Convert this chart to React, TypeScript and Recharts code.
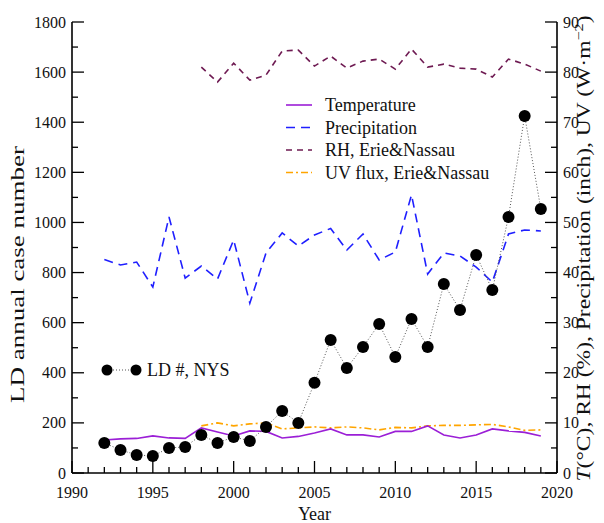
import { ComposedChart, Legend, Line, XAxis, YAxis } from "recharts";

// Lyme disease cases in NYS vs. climate variables
const years = [
  1992, 1993, 1994, 1995, 1996, 1997, 1998, 1999, 2000, 2001, 2002, 2003, 2004, 2005,
  2006, 2007, 2008, 2009, 2010, 2011, 2012, 2013, 2014, 2015, 2016, 2017, 2018, 2019,
];
const ldCases = [
  120, 92, 72, 68, 100, 104, 152, 120, 144, 128, 184, 247, 200, 360,
  531, 419, 503, 595, 463, 615, 503, 754, 651, 870, 730, 1022, 1425, 1054,
];
const temperature = [
  6.6, 6.8, 6.9, 7.4, 7.0, 6.9, 9.0, 8.2, 7.4, 8.4, 8.3, 7.0, 7.3, 8.0,
  8.8, 7.6, 7.6, 7.2, 8.3, 8.3, 9.4, 7.6, 7.0, 7.6, 8.8, 8.4, 8.1, 7.4,
];
const precipitation = [
  42.6, 41.5, 42.1, 37.1, 51.1, 38.9, 41.3, 38.7, 46.5, 33.9, 43.9, 47.9, 45.3, 47.5,
  48.8, 44.5, 47.7, 42.5, 44.1, 55.5, 39.7, 43.9, 43.3, 41.1, 38.1, 47.7, 48.5, 48.3,
];
// Erie & Nassau records start in 1998
const eriesYears = [
  1998, 1999, 2000, 2001, 2002, 2003, 2004, 2005, 2006, 2007, 2008,
  2009, 2010, 2011, 2012, 2013, 2014, 2015, 2016, 2017, 2018, 2019,
];
const relHumidity = [
  81.0, 78.0, 81.8, 78.4, 79.4, 84.2, 84.4, 81.2, 83.2, 80.8, 82.2,
  82.6, 80.6, 84.6, 81.0, 81.6, 80.8, 80.6, 79.0, 82.6, 81.6, 80.2,
];
const uvFlux = [
  9.4, 10.0, 9.4, 9.8, 10.0, 8.8, 9.0, 9.2, 9.0, 9.2, 9.0,
  8.6, 9.1, 9.0, 9.4, 9.5, 9.5, 9.6, 9.7, 9.2, 8.5, 8.6,
];

const yearTicks = [
  1990, 1991, 1992, 1993, 1994, 1995, 1996, 1997, 1998, 1999, 2000, 2001, 2002, 2003, 2004, 2005,
  2006, 2007, 2008, 2009, 2010, 2011, 2012, 2013, 2014, 2015, 2016, 2017, 2018, 2019, 2020,
];
const leftTicks = [
  0, 100, 200, 300, 400, 500, 600, 700, 800, 900, 1000, 1100, 1200, 1300, 1400, 1500, 1600, 1700, 1800,
];
const rightTicks = [0, 5, 10, 15, 20, 25, 30, 35, 40, 45, 50, 55, 60, 65, 70, 75, 80, 85, 90];

const data = years.map((year, i) => {
  const j = eriesYears.indexOf(year);
  return {
    year,
    ld: ldCases[i],
    temp: temperature[i],
    precip: precipitation[i],
    rh: j >= 0 ? relHumidity[j] : null,
    uv: j >= 0 ? uvFlux[j] : null,
  };
});

const FONT = '"Liberation Serif", "Times New Roman", Times, serif';
const txt = { fontFamily: FONT };

const COLORS = {
  temp: "#9b1fd6",
  precip: "#1f1fff",
  rh: "#6e1a52",
  uv: "#ffa500",
  ld: "#000000",
};

const legendItems = [
  { label: "Temperature", color: COLORS.temp, dash: undefined },
  { label: "Precipitation", color: COLORS.precip, dash: "9 6" },
  { label: "RH, Erie&Nassau", color: COLORS.rh, dash: "6 5" },
  { label: "UV flux, Erie&Nassau", color: COLORS.uv, dash: "7 3 2 3" },
];

const LeftTick = (props: any) => {
  const { x, y, payload } = props;
  const major = payload.value % 200 === 0;
  return (
    <g>
      <line x1={x} x2={x + (major ? 12 : 6)} y1={y} y2={y} stroke="#000" strokeWidth={1.3} />
      {major && (
        <text x={x - 6} y={y} dy="0.35em" textAnchor="end" style={txt} fontSize={16} fill="#111">
          {payload.value}
        </text>
      )}
    </g>
  );
};

const RightTick = (props: any) => {
  const { x, y, payload } = props;
  const major = payload.value % 10 === 0;
  return (
    <g>
      <line x1={x} x2={x - (major ? 12 : 6)} y1={y} y2={y} stroke="#000" strokeWidth={1.3} />
      {major && (
        <text x={x + 6} y={y} dy="0.35em" textAnchor="start" style={txt} fontSize={16} fill="#111">
          {payload.value}
        </text>
      )}
    </g>
  );
};

const YearTick = (props: any) => {
  const { x, y, payload } = props;
  const major = payload.value % 5 === 0;
  return (
    <g>
      <line x1={x} x2={x} y1={y} y2={y - (major ? 12 : 6)} stroke="#000" strokeWidth={1.3} />
      {major && (
        <text x={x} y={y + 25} textAnchor="middle" style={txt} fontSize={16} fill="#111">
          {payload.value}
        </text>
      )}
    </g>
  );
};

const LeftTitle = (props: any) => {
  const { viewBox } = props;
  const cy = viewBox.y + viewBox.height / 2 + 27;
  return (
    <text
      transform={`translate(24, ${cy}) rotate(-90)`}
      textAnchor="middle"
      style={txt}
      fontSize={19}
      fill="#111"
      textLength={257}
      lengthAdjust="spacingAndGlyphs"
    >
      LD annual case number
    </text>
  );
};

const RightTitle = (props: any) => {
  const { viewBox } = props;
  const cy = viewBox.y + viewBox.height / 2 + 1;
  return (
    <text
      transform={`translate(${viewBox.x + 33}, ${cy}) rotate(-90)`}
      textAnchor="middle"
      style={txt}
      fontSize={19}
      fill="#111"
      textLength={466}
      lengthAdjust="spacingAndGlyphs"
    >
      <tspan fontStyle="italic">T</tspan>
      <tspan>(°C), RH (%), Precipitation (inch), UV (W·m</tspan>
      <tspan dy={-7} fontSize={13}>−2</tspan>
      <tspan dy={7}>)</tspan>
    </text>
  );
};

const YearTitle = (props: any) => {
  const { viewBox } = props;
  return (
    <text
      x={viewBox.x + viewBox.width / 2}
      y={viewBox.y + 47}
      textAnchor="middle"
      style={txt}
      fontSize={18}
      fill="#111"
    >
      Year
    </text>
  );
};

const LegendBox = () => (
  <svg width={604} height={523} style={{ position: "absolute", left: 0, top: 0 }}>
    {legendItems.map((item, i) => {
      const y = 105 + i * 22.5;
      return (
        <g key={item.label}>
          <line
            x1={286}
            x2={312}
            y1={y}
            y2={y}
            stroke={item.color}
            strokeWidth={1.6}
            strokeDasharray={item.dash}
          />
          <text x={325} y={y} dy="0.35em" style={txt} fontSize={18} fill="#111">
            {item.label}
          </text>
        </g>
      );
    })}
    <g>
      <line x1={107} x2={136} y1={370} y2={370} stroke="#555" strokeWidth={1} strokeDasharray="1 2" />
      <circle cx={107} cy={370} r={5.5} fill="#000" />
      <circle cx={136} cy={370} r={5.5} fill="#000" />
      <text x={147} y={370} dy="0.35em" style={txt} fontSize={18} fill="#111">
        LD #, NYS
      </text>
    </g>
  </svg>
);

export default function App() {
  return (
    <div style={{ position: "absolute", left: 0, top: 0, width: 604, height: 523, background: "#fff" }}>
      <ComposedChart width={604} height={523} data={data} margin={{ top: 22, right: 0, bottom: 0, left: 0 }}>
        <XAxis
          dataKey="year"
          type="number"
          domain={[1990, 2020]}
          ticks={yearTicks}
          interval={0}
          height={50}
          tickSize={0}
          tickMargin={0}
          tickLine={false}
          tick={<YearTick />}
          axisLine={{ stroke: "#000", strokeWidth: 1.6 }}
          label={{ content: YearTitle }}
        />
        <XAxis
          xAxisId="top"
          orientation="top"
          type="number"
          domain={[1990, 2020]}
          height={0}
          tick={false}
          tickLine={false}
          axisLine={{ stroke: "#000", strokeWidth: 1.6 }}
        />
        <YAxis
          yAxisId="left"
          domain={[0, 1800]}
          ticks={leftTicks}
          interval={0}
          width={72}
          tickSize={0}
          tickMargin={0}
          tickLine={false}
          tick={<LeftTick />}
          axisLine={{ stroke: "#000", strokeWidth: 1.6 }}
          label={{ content: LeftTitle }}
        />
        <YAxis
          yAxisId="right"
          orientation="right"
          domain={[0, 90]}
          ticks={rightTicks}
          interval={0}
          width={47}
          tickSize={0}
          tickMargin={0}
          tickLine={false}
          tick={<RightTick />}
          axisLine={{ stroke: "#000", strokeWidth: 1.6 }}
          label={{ content: RightTitle }}
        />
        <Legend
          layout="vertical"
          align="center"
          verticalAlign="middle"
          wrapperStyle={{ position: "absolute", left: 0, top: 0, width: 604, height: 523, pointerEvents: "none" }}
          content={LegendBox}
        />
        <Line
          yAxisId="right"
          dataKey="rh"
          type="linear"
          stroke={COLORS.rh}
          strokeWidth={1.6}
          strokeDasharray="6 5"
          dot={false}
          isAnimationActive={false}
        />
        <Line
          yAxisId="right"
          dataKey="precip"
          type="linear"
          stroke={COLORS.precip}
          strokeWidth={1.6}
          strokeDasharray="9 6"
          dot={false}
          isAnimationActive={false}
        />
        <Line
          yAxisId="right"
          dataKey="uv"
          type="linear"
          stroke={COLORS.uv}
          strokeWidth={1.6}
          strokeDasharray="7 3 2 3"
          dot={false}
          isAnimationActive={false}
        />
        <Line
          yAxisId="right"
          dataKey="temp"
          type="linear"
          stroke={COLORS.temp}
          strokeWidth={1.6}
          dot={false}
          isAnimationActive={false}
        />
        <Line
          yAxisId="left"
          dataKey="ld"
          type="linear"
          stroke="#555"
          strokeWidth={1}
          strokeDasharray="1 2"
          dot={{ r: 6, fill: COLORS.ld, stroke: COLORS.ld, strokeWidth: 0 }}
          isAnimationActive={false}
        />
      </ComposedChart>
    </div>
  );
}
